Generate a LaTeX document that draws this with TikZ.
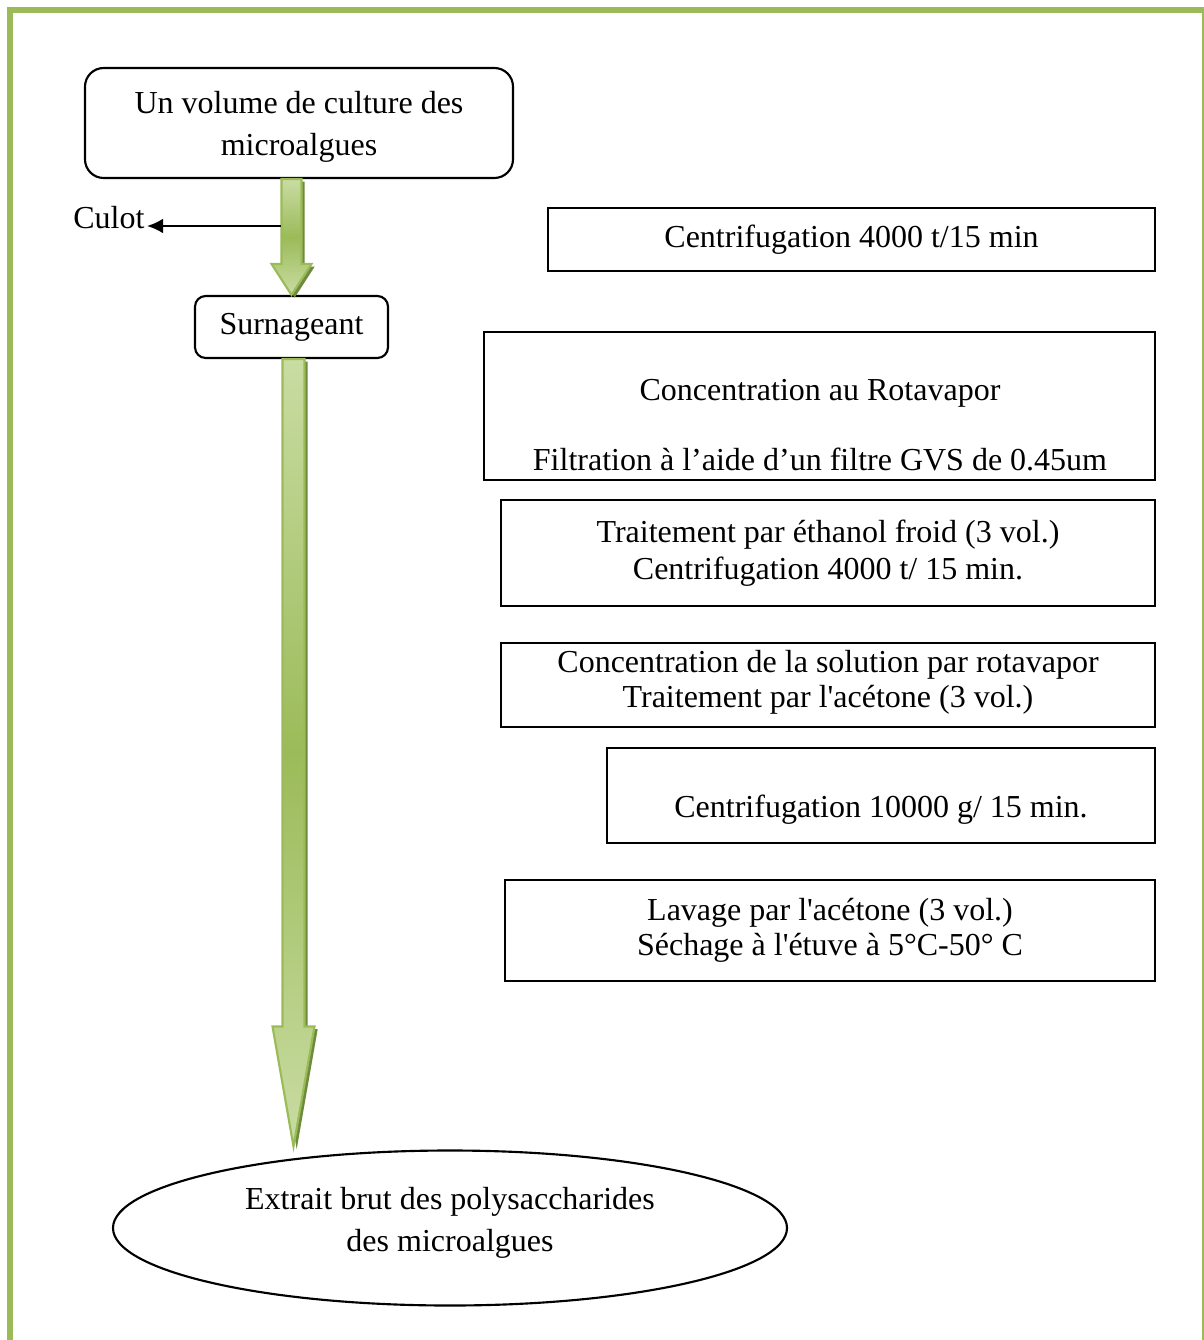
\documentclass[tikz,border=0pt]{standalone}
\usepackage{fontspec}
\setmainfont{Liberation Serif}
\usetikzlibrary{shapes.geometric,calc,arrows.meta}
\newdimen\pxu \pxu=0.375pt
\definecolor{gA}{HTML}{9BBB59}
\definecolor{gL}{HTML}{C9DCA3}
\definecolor{gD}{HTML}{6E8B3D}
\newcommand{\apos}{\textquotesingle}
\begin{document}
\begin{tikzpicture}[x=0.375pt,y=-0.375pt,
  txt/.style={font=\fontsize{12}{16}\selectfont, align=center},
  roundbox/.style={draw, line width=0.8pt, txt},
  stepbox/.style={draw, rectangle, line width=0.75pt, txt},
  garrow/.style={draw=gA, line width=0.8pt, top color=gL, bottom color=gL, middle color=gA},
  gshadow/.style={fill=gD, draw=none},
]
\useasboundingbox (0,0) rectangle (1204,1340);
% page frame
\fill[gA] (7,7) rectangle (13,1340);
\fill[gA] (7,7) rectangle (1204,13);
\fill[gA] (1202,7) rectangle (1204,1340);

% left column
\node[roundbox, rounded corners=7pt, minimum width=428\pxu, minimum height=110\pxu] (top) at (299,123) {};
\node[txt] (topt) at (299,127) {Un volume de culture des\\microalgues};
\node[roundbox, rounded corners=4pt, minimum width=193\pxu, minimum height=62\pxu] (surn) at (291.5,327)
  {Surnageant};
\node[draw, ellipse, line width=0.8pt, minimum width=674\pxu, minimum height=155\pxu] (ext) at (450,1228) {};
\node[txt] (extt) at (450,1223) {Extrait brut des polysaccharides\\des microalgues};
\node[txt, anchor=east, inner sep=0pt] (culot) at (145,218) {Culot};

% right column
\node[stepbox, minimum width=607\pxu, minimum height=63\pxu] (b1) at (851.5,239.5) {Centrifugation 4000 t/15 min};
\node[stepbox, minimum width=671\pxu, minimum height=148\pxu] (b2) at (819.5,406) {};
\node[txt] (b2t) at (820,425) {Concentration au Rotavapor\\[10.5pt]Filtration à l’aide d’un filtre GVS de 0.45um};
\node[stepbox, minimum width=654\pxu, minimum height=106\pxu, font=\fontsize{12}{13.9}\selectfont] (b3) at (828,553) {Traitement par éthanol froid (3 vol.)\\Centrifugation 4000 t/ 15 min.};
\node[stepbox, minimum width=654\pxu, minimum height=84\pxu, font=\fontsize{12}{13.2}\selectfont] (b4) at (828,685) {};
\node[txt, font=\fontsize{12}{13.2}\selectfont] (b4t) at (828,682) {Concentration de la solution par rotavapor\\Traitement par l\apos acétone (3 vol.)};
\node[stepbox, minimum width=548\pxu, minimum height=95\pxu] (b5) at (881,795.5) {};
\node[txt] (b5t) at (881,810) {Centrifugation 10000 g/ 15 min.};
\node[stepbox, minimum width=650\pxu, minimum height=101\pxu, font=\fontsize{12}{13.2}\selectfont] (b6) at (830,930.5) {Lavage par l\apos acétone (3 vol.)\\Séchage à l\apos étuve à 5°C-50° C};

% green arrow 1 : top -> surn
\coordinate (a1s) at (surn.north |- top.south);
\coordinate (a1e) at (surn.north);
\begin{scope}[transform canvas={xshift=1.2pt,yshift=-1pt}]
\fill[gshadow] ($(a1s)+(-10,0)$) -- ($(a1e)+(-10,-31)$) -- ($(a1e)+(-20,-31)$) -- (a1e)
  -- ($(a1e)+(20,-31)$) -- ($(a1e)+(10,-31)$) -- ($(a1s)+(10,0)$) -- cycle;
\end{scope}
\path[garrow] ($(a1s)+(-10,0)$) -- ($(a1e)+(-10,-31)$) -- ($(a1e)+(-20,-31)$) -- (a1e)
  -- ($(a1e)+(20,-31)$) -- ($(a1e)+(10,-31)$) -- ($(a1s)+(10,0)$) -- cycle;

% green arrow 2 : surn -> ext
\coordinate (a2s) at ($(surn.south)+(2,0)$);
\coordinate (a2e) at ($(a2s |- ext.north)+(0,-3)$);
\begin{scope}[transform canvas={xshift=1.2pt,yshift=-1pt}]
\fill[gshadow] ($(a2s)+(-11,0)$) -- ($(a2e)+(-11,-120)$) -- ($(a2e)+(-21,-120)$) -- (a2e)
  -- ($(a2e)+(21,-120)$) -- ($(a2e)+(11,-120)$) -- ($(a2s)+(11,0)$) -- cycle;
\end{scope}
\path[garrow] ($(a2s)+(-11,0)$) -- ($(a2e)+(-11,-120)$) -- ($(a2e)+(-21,-120)$) -- (a2e)
  -- ($(a2e)+(21,-120)$) -- ($(a2e)+(11,-120)$) -- ($(a2s)+(11,0)$) -- cycle;

% culot arrow
\coordinate (c0) at (a1s |- 0,226);
\coordinate (c0) at ($(c0)+(-11,0)$);
\draw[line width=0.75pt, -{Latex[length=6pt,width=5.5pt]}] (c0) -- ($(culot.east |- c0)+(2,0)$);
\end{tikzpicture}
\end{document}
